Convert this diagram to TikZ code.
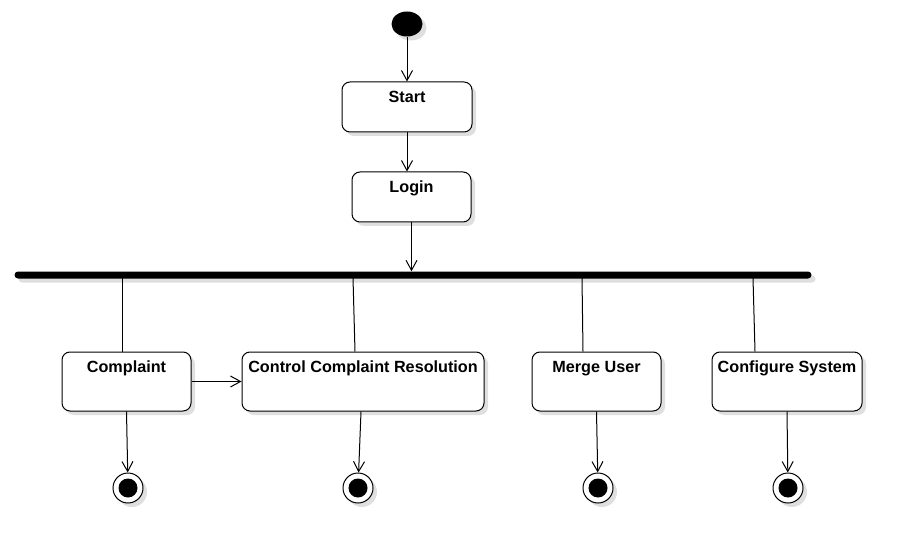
\documentclass[tikz,border=0pt]{standalone}
\usepackage{fontspec}
\setmainfont{Liberation Sans}
\usepackage{tikz}
\usetikzlibrary{arrows.meta, shapes.geometric, shadows}
\definecolor{shadowgray}{RGB}{215, 215, 215}
\tikzset{
    softshadow/.style={drop shadow={shadow xshift=4pt, shadow yshift=-4pt, fill=shadowgray, opacity=0.8}},
    actbox/.style={draw, line width=1pt, fill=white, rounded corners=8pt, softshadow,
        minimum height=59pt},
    acttext/.style={font=\fontsize{16.2}{19}\selectfont\bfseries},
    flow/.style={line width=1pt, -{Straight Barb[length=10pt, width=11pt, line width=1pt]}},
    endstate/.style={circle, draw, line width=1pt, fill=white, minimum size=30pt, inner sep=0pt, softshadow}
}
\begin{document}
\begin{tikzpicture}[x=1pt, y=-1pt]
        \useasboundingbox (0,0) rectangle (912,553);
        % 起始节点
        \node[ellipse, fill=black, minimum width=31pt, minimum height=25pt, inner sep=0pt, softshadow] (init) at (407,24) {};
        
        % Start 与 Login
        \node[actbox, minimum width=130pt, minimum height=50pt,
            label={[acttext, anchor=base, yshift=-21pt]north:Start}] (start) at (407,107) {};
        \node[actbox, minimum width=119pt, minimum height=50pt,
            label={[acttext, anchor=base, yshift=-21pt]north:Login}] (login) at (411.5,197) {};
        \draw[flow] (init) -- (start);
        \draw[flow] (start.south) -- (start.south |- login.north);
        
        % 分叉条
        \node[fill=black, rounded corners=3.5pt, minimum width=797pt, minimum height=7pt, inner sep=0pt,
            softshadow] (fork) at (413,275) {};
        \draw[flow] (login.south) -- (login.south |- fork.north);
        
        % 四个活动
        \node[actbox, minimum width=129pt,
            label={[acttext, anchor=base, yshift=-21pt]north:Complaint}] (complaint) at (126.5,381.5) {};
        \node[actbox, minimum width=242pt,
            label={[acttext, anchor=base, yshift=-21pt]north:Control Complaint Resolution}] (control) at (363,381.5) {};
        \node[actbox, minimum width=129pt,
            label={[acttext, anchor=base, yshift=-21pt]north:Merge User}] (merge) at (596.5,381.5) {};
        \node[actbox, minimum width=150pt,
            label={[acttext, anchor=base, yshift=-21pt]north:Configure System}] (config) at (787,381.5) {};
        
        % 分叉条到活动
        \coordinate (f1) at (122,278);
        \coordinate (f2) at (353,278);
        \coordinate (f3) at (582,278);
        \coordinate (f4) at (753,278);
        \draw[line width=1pt] (f1) -- (f1 |- complaint.north);
        \draw[line width=1pt] (f2) -- ([xshift=-8pt]control.north);
        \draw[line width=1pt] (f3) -- ([xshift=-13.5pt]merge.north);
        \draw[line width=1pt] (f4) -- ([xshift=-32pt]config.north);
        \draw[flow] (complaint) -- (control);
        
        % 终止节点
        \node[endstate] (end1) at (128,488) {};
        \node[endstate] (end2) at (358,488) {};
        \node[endstate] (end3) at (598,488) {};
        \node[endstate] (end4) at (788,488) {};
        \foreach \e in {end1, end2, end3, end4}
            \fill (\e.center) circle (9.5pt);
        \draw[flow] (complaint.south) -- (end1);
        \draw[flow] ([xshift=-2pt]control.south) -- (end2);
        \draw[flow] (merge.south) -- (end3);
        \draw[flow] (config.south) -- (end4);
        
    \end{tikzpicture}
\end{document}
